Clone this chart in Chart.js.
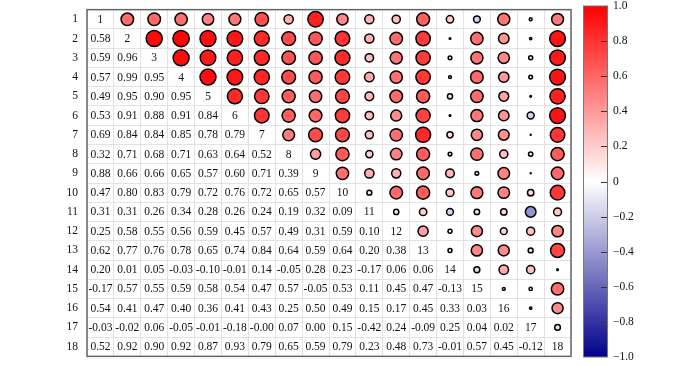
<!DOCTYPE html>
<html>
<head>
<meta charset="utf-8">
<script src="https://cdn.jsdelivr.net/npm/chart.js@4"></script>
<style>
  html, body { margin: 0; padding: 0; background: #fff; }
  #wrap { position: relative; width: 700px; height: 366px; }
  #main { position: absolute; left: 0; top: 0; }
  #cbar { position: absolute; left: 570px; top: 0; }
</style>
</head>
<body>
<div id="wrap">
  <canvas id="main" width="700" height="366"></canvas>
  <canvas id="cbar" width="130" height="366"></canvas>
</div>
<script>
// ---- Data ----
const variables = ['1','2','3','4','5','6','7','8','9','10','11','12','13','14','15','16','17','18'];
// lower triangle of the correlation matrix, row by row
const row2  = [0.58];
const row3  = [0.59, 0.96];
const row4  = [0.57, 0.99, 0.95];
const row5  = [0.49, 0.95, 0.90, 0.95];
const row6  = [0.53, 0.91, 0.88, 0.91, 0.84];
const row7  = [0.69, 0.84, 0.84, 0.85, 0.78, 0.79];
const row8  = [0.32, 0.71, 0.68, 0.71, 0.63, 0.64, 0.52];
const row9  = [0.88, 0.66, 0.66, 0.65, 0.57, 0.60, 0.71, 0.39];
const row10 = [0.47, 0.80, 0.83, 0.79, 0.72, 0.76, 0.72, 0.65, 0.57];
const row11 = [0.31, 0.31, 0.26, 0.34, 0.28, 0.26, 0.24, 0.19, 0.32, 0.09];
const row12 = [0.25, 0.58, 0.55, 0.56, 0.59, 0.45, 0.57, 0.49, 0.31, 0.59, 0.10];
const row13 = [0.62, 0.77, 0.76, 0.78, 0.65, 0.74, 0.84, 0.64, 0.59, 0.64, 0.20, 0.38];
const row14 = [0.20, 0.01, 0.05, -0.03, -0.10, -0.01, 0.14, -0.05, 0.28, 0.23, -0.17, 0.06, 0.06];
const row15 = [-0.17, 0.57, 0.55, 0.59, 0.58, 0.54, 0.47, 0.57, -0.05, 0.53, 0.11, 0.45, 0.47, -0.13];
const row16 = [0.54, 0.41, 0.47, 0.40, 0.36, 0.41, 0.43, 0.25, 0.50, 0.49, 0.15, 0.17, 0.45, 0.33, 0.03];
const row17 = [-0.03, -0.02, 0.06, -0.05, -0.01, -0.18, -0.00, 0.07, 0.00, 0.15, -0.42, 0.24, -0.09, 0.25, 0.04, 0.02];
const row18 = [0.52, 0.92, 0.90, 0.92, 0.87, 0.93, 0.79, 0.65, 0.59, 0.79, 0.23, 0.48, 0.73, -0.01, 0.57, 0.45, -0.12];
const colorbarTicks = [-1, -0.8, -0.6, -0.4, -0.2, 0, 0.2, 0.4, 0.6, 0.8, 1];
const colorbarTickLabels = ['\u22121.0','\u22120.8','\u22120.6','\u22120.4','\u22120.2','0','0.2','0.4','0.6','0.8','1.0'];

const lowerRows = [[], row2, row3, row4, row5, row6, row7, row8, row9, row10, row11, row12, row13, row14, row15, row16, row17, row18];

// ---- Helpers ----
function colorFor(v) {
  const t = Math.min(1, Math.abs(v));
  if (v >= 0) {
    const g = Math.round(255 * (1 - t));
    return `rgb(255,${g},${g})`;
  } else {
    const c = Math.round(255 * (1 - t));
    const b = Math.round(255 - t * (255 - 139));
    return `rgb(${c},${c},${b})`;
  }
}
function fmt(v) {
  let s = Math.abs(v).toFixed(2);
  if (v < 0 || Object.is(v, -0)) s = '-' + s;
  return s;
}

// upper triangle circles (symmetric values)
const circles = [];
for (let r = 1; r < variables.length; r++) {
  for (let c = 0; c < r; c++) {
    circles.push({ x: variables[r], y: variables[c], v: lowerRows[r][c] });
  }
}
// lower triangle text + diagonal labels
const texts = [];
for (let r = 0; r < variables.length; r++) {
  texts.push({ x: variables[r], y: variables[r], t: variables[r] });
  for (let c = 0; c < r; c++) {
    texts.push({ x: variables[c], y: variables[r], t: fmt(lowerRows[r][c]) });
  }
}

const SERIF = '"Liberation Serif", "Times New Roman", serif';

const textPlugin = {
  id: 'cellText',
  afterDatasetsDraw(chart) {
    const ctx = chart.ctx;
    const xs = chart.scales.x, ys = chart.scales.y;
    ctx.save();
    ctx.fillStyle = '#111';
    ctx.font = `11.5px ${SERIF}`;
    ctx.textAlign = 'center';
    ctx.textBaseline = 'middle';
    texts.forEach(d => {
      const px = xs.getPixelForValue(variables.indexOf(d.x));
      const py = ys.getPixelForValue(variables.indexOf(d.y));
      ctx.fillText(d.t, px, py + 0.5);
    });
    const a = chart.chartArea;
    ctx.strokeStyle = '#666';
    ctx.lineWidth = 1.5;
    ctx.strokeRect(a.left, a.top, a.right - a.left, a.bottom - a.top);
    ctx.restore();
  }
};

new Chart(document.getElementById('main'), {
  type: 'bubble',
  data: {
    datasets: [{
      data: circles,
      backgroundColor: ctx => colorFor(ctx.raw.v),
      borderColor: '#000',
      borderWidth: 1.5,
      radius: ctx => Math.max(0.5, 8.2 * Math.sqrt(Math.abs(ctx.raw.v))),
      hoverRadius: 0
    }]
  },
  options: {
    responsive: false,
    animation: false,
    events: [],
    layout: { padding: { left: 0, right: 129, top: 4, bottom: 3 } },
    plugins: { legend: { display: false }, tooltip: { enabled: false } },
    scales: {
      x: {
        type: 'category',
        labels: variables,
        offset: true,
        grid: { offset: true, color: '#e2e2e2', lineWidth: 1, drawTicks: false },
        border: { display: false },
        ticks: { display: false },
        afterFit: s => { s.height = 0; s.paddingLeft = 0; s.paddingRight = 0; }
      },
      y: {
        type: 'category',
        labels: variables,
        offset: true,
        grid: { offset: true, color: '#e2e2e2', lineWidth: 1, drawTicks: false },
        border: { display: false },
        ticks: { color: '#111', font: { family: SERIF, size: 11.5 }, padding: 9 },
        afterFit: s => { s.width = 87; s.paddingTop = 0; s.paddingBottom = 0; }
      }
    }
  },
  plugins: [textPlugin]
});

// ---- Colour bar ----
const cbarPlugin = {
  id: 'cbarFill',
  beforeDatasetsDraw(chart) {
    const ctx = chart.ctx;
    const a = chart.chartArea;
    const ys = chart.scales.y;
    const yTop = ys.getPixelForValue(1), yBot = ys.getPixelForValue(-1);
    const g = ctx.createLinearGradient(0, yTop, 0, yBot);
    for (let i = 0; i <= 40; i++) {
      const v = 1 - i / 20;
      g.addColorStop(i / 40, colorFor(v));
    }
    ctx.save();
    ctx.fillStyle = g;
    ctx.fillRect(a.left, yTop, a.right - a.left, yBot - yTop);
    ctx.strokeStyle = '#777';
    ctx.lineWidth = 1;
    ctx.strokeRect(a.left + 0.5, yTop, a.right - a.left - 1, yBot - yTop);
    ctx.strokeStyle = '#333';
    ctx.lineWidth = 1;
    colorbarTicks.forEach(v => {
      if (Math.abs(v) >= 1) return;
      const py = Math.round(ys.getPixelForValue(v)) + 0.5;
      ctx.beginPath();
      ctx.moveTo(a.right - 7, py);
      ctx.lineTo(a.right - 1, py);
      ctx.stroke();
    });
    ctx.restore();
  }
};

new Chart(document.getElementById('cbar'), {
  type: 'scatter',
  data: { datasets: [{ data: [] }] },
  options: {
    responsive: false,
    animation: false,
    events: [],
    layout: { padding: { left: 13, right: 52, top: 6, bottom: 9 } },
    plugins: { legend: { display: false }, tooltip: { enabled: false } },
    scales: {
      x: { display: false, min: 0, max: 1 },
      y: {
        position: 'right',
        min: -1, max: 1,
        afterBuildTicks: s => { s.ticks = colorbarTicks.map(v => ({ value: v })); },
        ticks: {
          color: '#111',
          font: { family: SERIF, size: 11.5 },
          padding: 5,
          autoSkip: false,
          callback: (val, idx) => colorbarTickLabels[idx]
        },
        grid: { display: false, drawTicks: false },
        border: { display: false },
        afterFit: s => { s.width = 40; s.paddingTop = 0; s.paddingBottom = 0; }
      }
    }
  },
  plugins: [cbarPlugin]
});
</script>
</body>
</html>
